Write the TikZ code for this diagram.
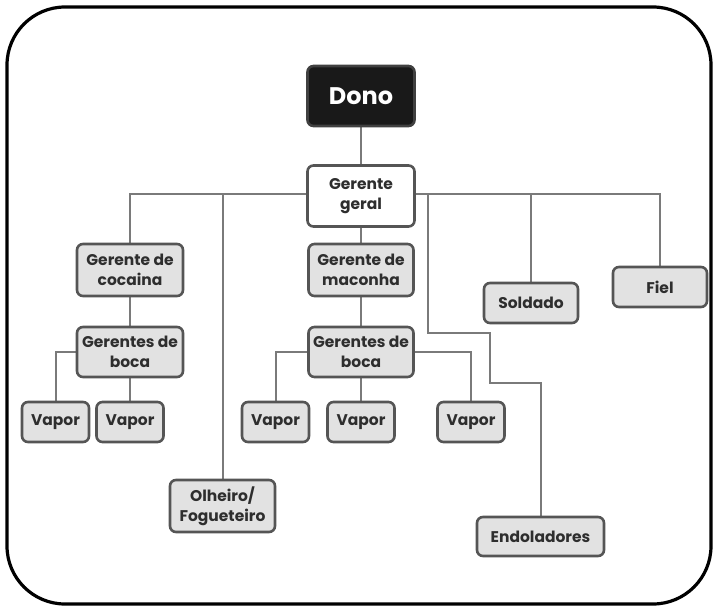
\documentclass[tikz,border=0pt]{standalone}
\usepackage{fontspec}
\setmainfont{Poppins}
\usetikzlibrary{backgrounds}
\definecolor{boxfill}{HTML}{E2E2E2}
\definecolor{boxline}{HTML}{555555}
\definecolor{connline}{HTML}{7A7A7A}
\definecolor{txt}{HTML}{2E2E2E}
\tikzset{
  box/.style={draw=boxline, line width=2.6pt, fill=boxfill, rounded corners=6pt,
    align=center, inner sep=0pt, text=txt,
    font=\fontsize{15.5}{20}\selectfont\bfseries},
  whitebox/.style={box, fill=white},
  blackbox/.style={box, fill=black!90, draw=black!75, text=white,
    font=\fontsize{24}{28}\selectfont\bfseries},
  conn/.style={draw=connline, line width=2pt},
}
\begin{document}
\begin{tikzpicture}[x=1pt,y=-1pt]
\useasboundingbox (0,0) rectangle (715,608);
\draw[line width=3.2pt, rounded corners=58pt] (7,7) rectangle (711,604);

\node[blackbox, minimum width=107pt, minimum height=60pt] (dono) at (361,96) {Dono};
\node[whitebox, minimum width=107pt, minimum height=61pt] (geral) at (361,196) {Gerente\\geral};

\node[box, minimum width=106pt, minimum height=52pt] (coc) at (130,270) {Gerente de\\cocaina};
\node[box, minimum width=106pt, minimum height=50pt] (bocaL) at (130,352) {Gerentes de\\boca};
\node[box, minimum width=67pt, minimum height=40pt] (vL1) at (55.5,422) {Vapor};
\node[box, minimum width=67pt, minimum height=40pt] (vL2) at (130,422) {Vapor};

\node[box, minimum width=105pt, minimum height=52pt] (mac) at (361,270) {Gerente de\\maconha};
\node[box, minimum width=105pt, minimum height=50pt] (bocaM) at (361,352) {Gerentes de\\boca};
\node[box, minimum width=67pt, minimum height=40pt] (vM1) at (275.5,422) {Vapor};
\node[box, minimum width=67pt, minimum height=40pt] (vM2) at (361,422) {Vapor};
\node[box, minimum width=67pt, minimum height=40pt] (vM3) at (471,422) {Vapor};

\node[box, minimum width=105pt, minimum height=52pt] (olh) at (222.5,506) {Olheiro/\\Fogueteiro};
\node[box, minimum width=127pt, minimum height=39pt] (endo) at (540.5,536.5) {Endoladores};
\node[box, minimum width=94pt, minimum height=40pt] (sold) at (531,303) {Soldado};
\node[box, minimum width=94pt, minimum height=40pt] (fiel) at (660,287) {Fiel};

\coordinate (bus) at (361,194);
\coordinate (j1) at (428,333);
\coordinate (j2) at (490,383);

\begin{scope}[on background layer]
\draw[conn] (dono) -- (geral);
\draw[conn] (coc.north) |- (geral.west |- bus);
\draw[conn] (fiel.north) |- (geral.east |- bus);
\draw[conn] (olh.north) -- (olh.north |- bus);
\draw[conn] (sold.north) -- (sold.north |- bus);
\draw[conn] (endo.north) |- (j2) |- (j1) -- (j1 |- bus);
\draw[conn] (geral) -- (mac);
\draw[conn] (mac) -- (bocaM);
\draw[conn] (coc) -- (bocaL);
\draw[conn] (bocaL) -- (vL2);
\draw[conn] (vL1.north) |- (bocaL);
\draw[conn] (bocaM) -- (vM2);
\draw[conn] (vM1.north) |- (bocaM);
\draw[conn] (vM3.north) |- (bocaM);
\end{scope}
\end{tikzpicture}
\end{document}
